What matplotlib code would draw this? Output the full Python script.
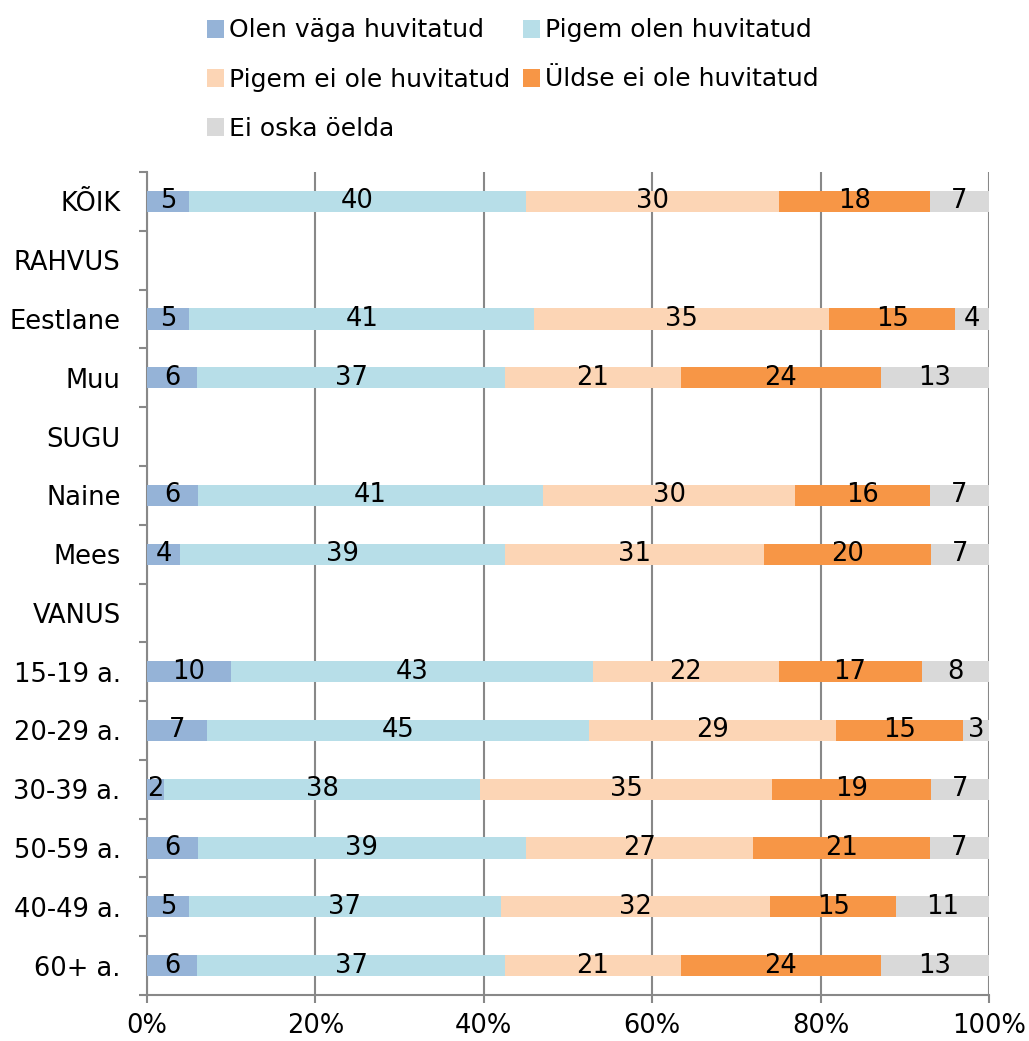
import numpy as np
import matplotlib
matplotlib.use("Agg")
import matplotlib.pyplot as plt
from matplotlib.patches import Patch

# Categories (top to bottom); None marks heading rows without bars
categories = ["KÕIK", "RAHVUS", "Eestlane", "Muu", "SUGU", "Naine", "Mees",
              "VANUS", "15-19 a.", "20-29 a.", "30-39 a.", "50-59 a.",
              "40-49 a.", "60+ a."]

series_names = ["Olen väga huvitatud", "Pigem olen huvitatud",
                "Pigem ei ole huvitatud", "Üldse ei ole huvitatud",
                "Ei oska öelda"]

vaga_huvitatud =   [5, None, 5, 6, None, 6, 4, None, 10, 7, 2, 6, 5, 6]
pigem_huvitatud =  [40, None, 41, 37, None, 41, 39, None, 43, 45, 38, 39, 37, 37]
pigem_ei =         [30, None, 35, 21, None, 30, 31, None, 22, 29, 35, 27, 32, 21]
uldse_ei =         [18, None, 15, 24, None, 16, 20, None, 17, 15, 19, 21, 15, 24]
ei_oska =          [7, None, 4, 13, None, 7, 7, None, 8, 3, 7, 7, 11, 13]

colors = ["#95B3D7", "#B7DEE8", "#FCD5B5", "#F79646", "#D9D9D9"]

plt.rcParams["font.family"] = ["DejaVu Sans"]
fs = 18.5

fig = plt.figure(figsize=(10.29, 10.41), dpi=100)
ax = fig.add_axes([147 / 1029, 1 - 995 / 1041, 842 / 1029, 823 / 1041])

n = len(categories)
y = np.arange(n)
all_series = [vaga_huvitatud, pigem_huvitatud, pigem_ei, uldse_ei, ei_oska]

for i in range(n):
    vals = [s[i] for s in all_series]
    if vals[0] is None:
        continue
    total = sum(vals)
    left = 0.0
    for v, c in zip(vals, colors):
        w = v / total * 100
        ax.barh(y[i], w, left=left, height=0.36, color=c, zorder=3)
        ax.text(left + w / 2, y[i], str(v), ha="center", va="center",
                fontsize=fs, color="black", zorder=4)
        left += w

ax.set_xlim(0, 100)
ax.set_ylim(n - 0.5, -0.5)
ax.set_xticks(np.arange(0, 101, 20))
ax.set_xticklabels([f"{t}%" for t in range(0, 101, 20)], fontsize=fs)
ax.set_yticks(y)
ax.set_yticklabels(categories, fontsize=fs)
ax.set_yticks(np.arange(-0.5, n, 1), minor=True)
ax.tick_params(axis="y", which="major", length=0, pad=19)
ax.tick_params(axis="y", which="minor", length=6, width=1.5, color="#888888")
ax.tick_params(axis="x", length=6, width=1.5, color="#888888", pad=7)

ax.grid(axis="x", color="#888888", linewidth=1.5, zorder=0)
for side in ["top", "right"]:
    ax.spines[side].set_visible(False)
for side in ["left", "bottom"]:
    ax.spines[side].set_color("#888888")
    ax.spines[side].set_linewidth(1.5)

# legend filled row by row like the original (matplotlib fills by column)
order = [0, 2, 4, 1, 3]
handles = [Patch(facecolor=colors[k], edgecolor="none") for k in order]
labels = [series_names[k] for k in order]
fig.legend(handles, labels, ncol=2, loc="upper left",
           bbox_to_anchor=(184 / 1029, 1 + 4 / 1041), frameon=False,
           fontsize=18, handlelength=0.7, handleheight=0.7,
           handletextpad=0.2, columnspacing=0.5, labelspacing=1.0)

fig.savefig("out.png", dpi=100)
